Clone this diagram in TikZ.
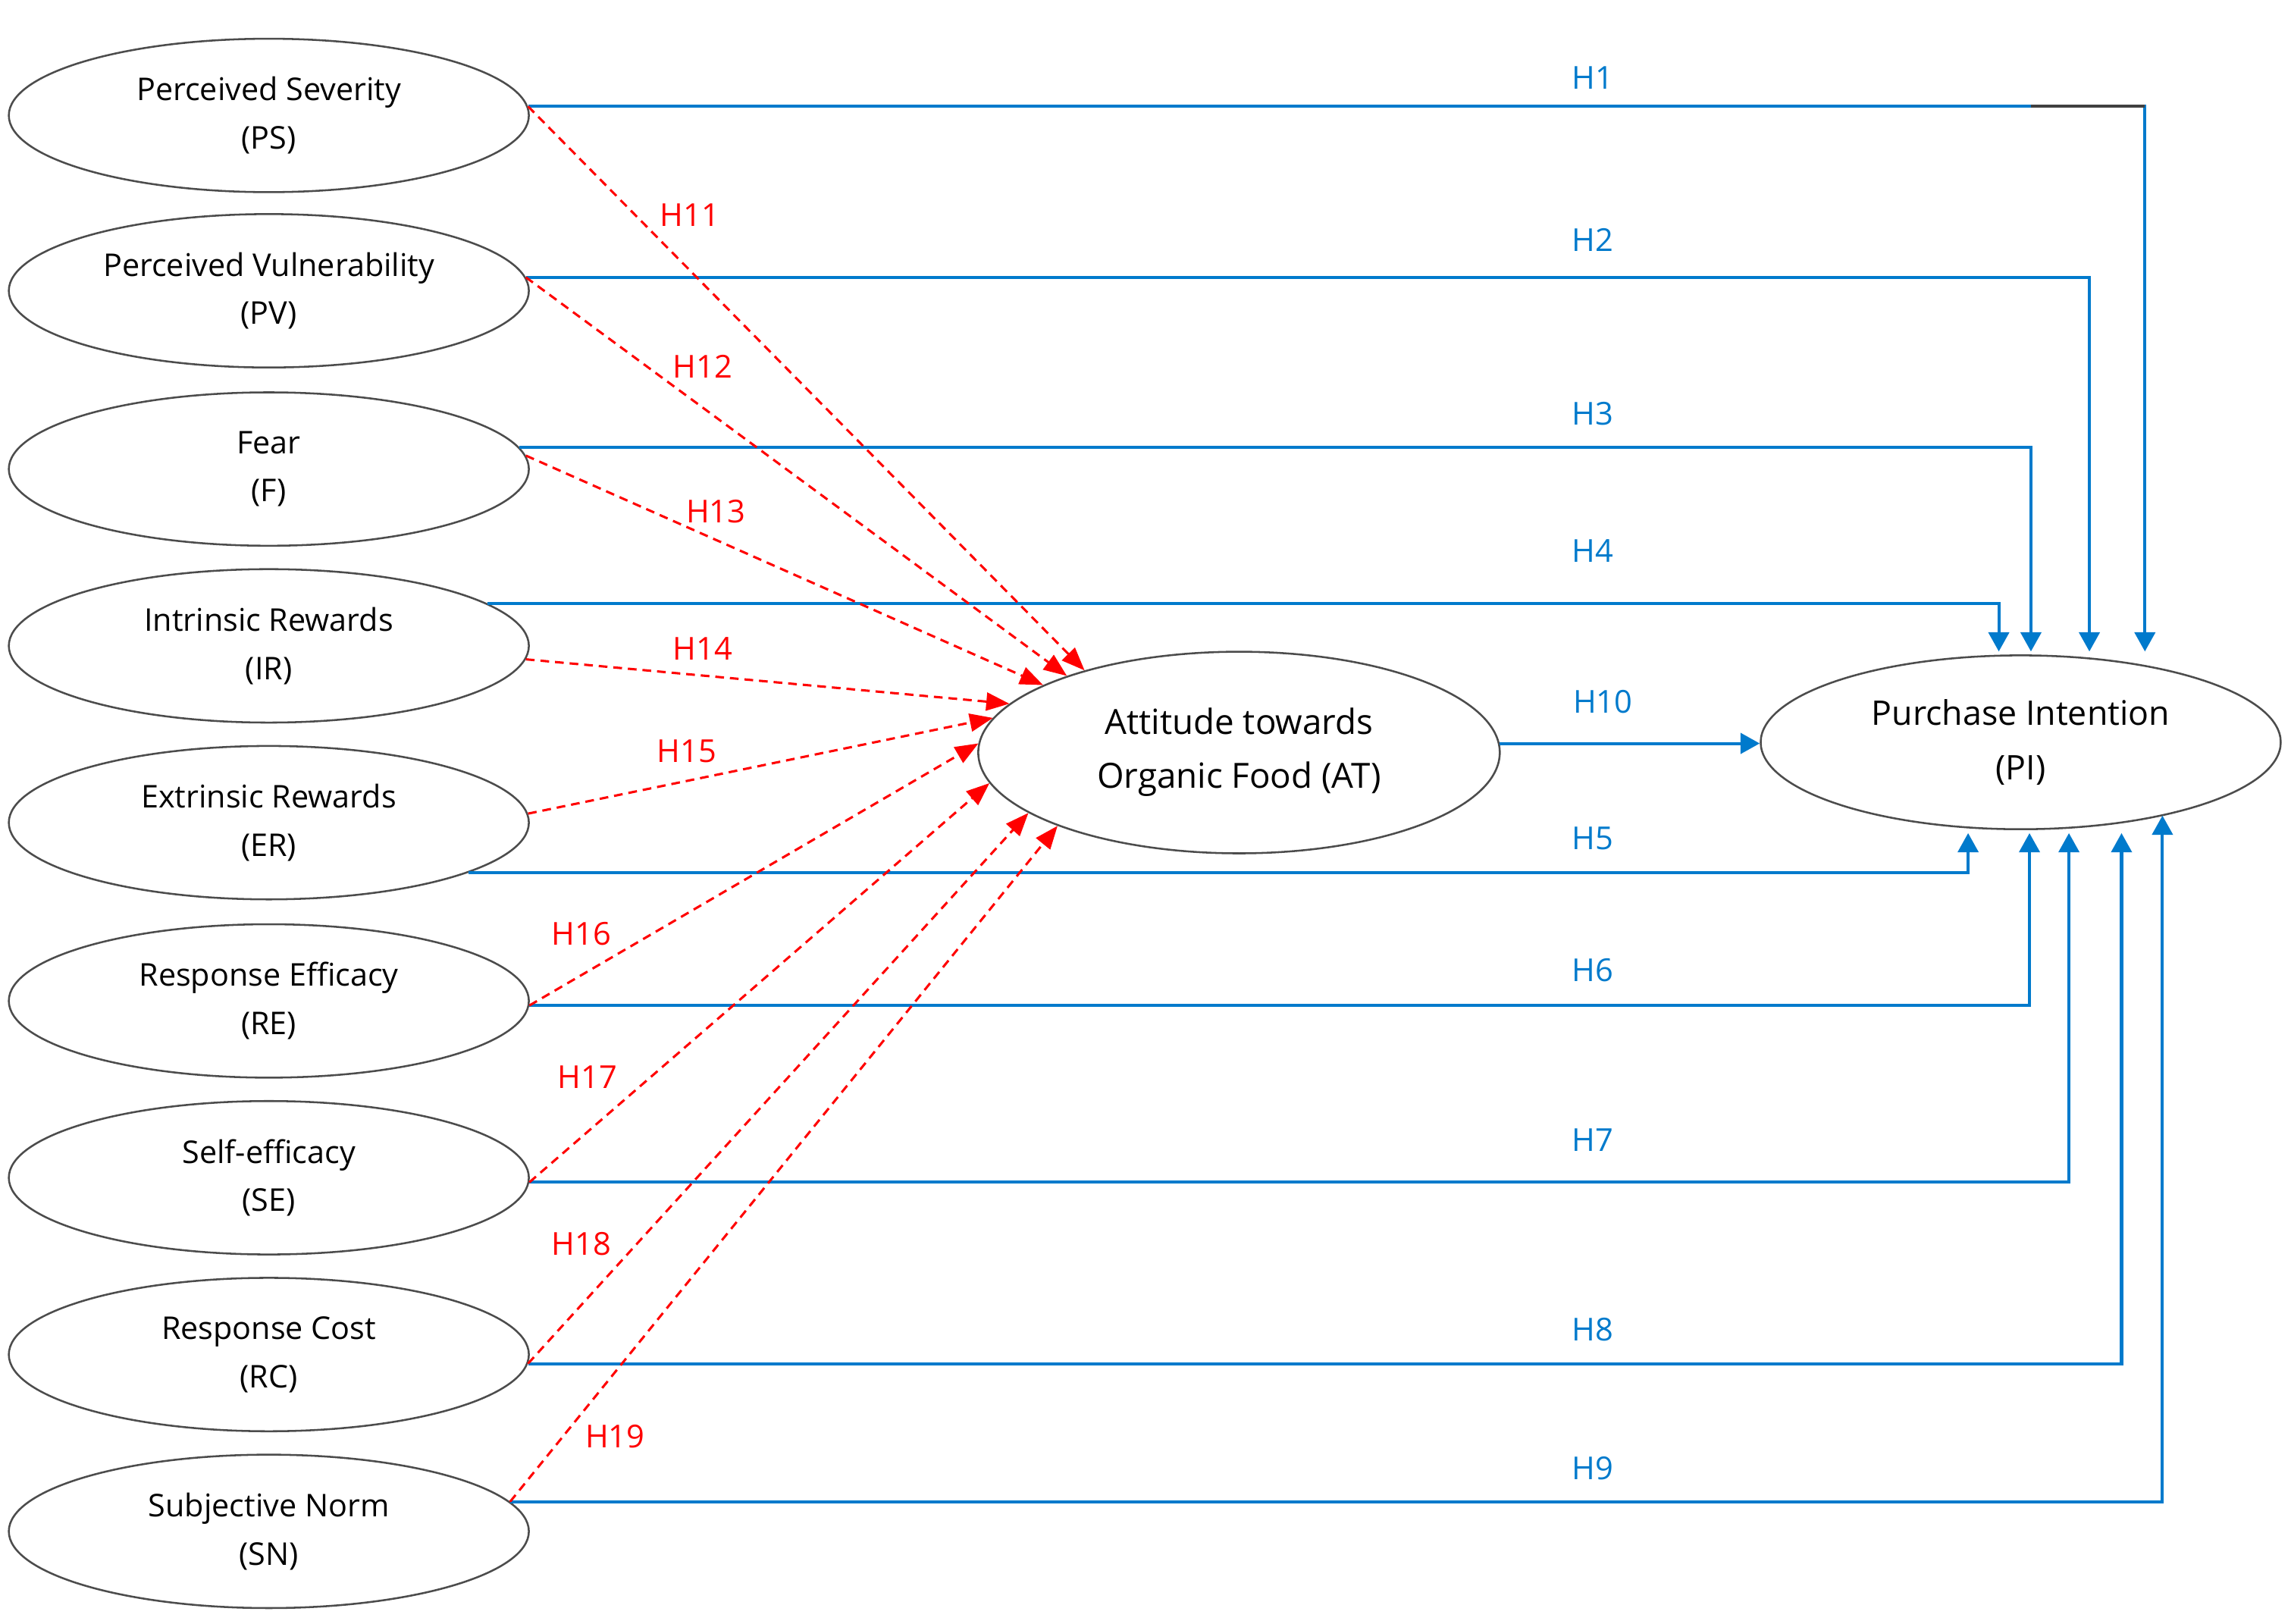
\documentclass[tikz,border=0pt]{standalone}
\usepackage{fontspec}
\setmainfont{Open Sans}
\usetikzlibrary{shapes.geometric,arrows.meta,calc}

\definecolor{pathblue}{RGB}{0,122,204}
\definecolor{pathred}{RGB}{255,0,0}

\tikzset{
  construct/.style={ellipse, draw=black!70, line width=0.75pt, align=center,
    inner sep=0pt, minimum width=7.12cm, minimum height=2.1cm,
    font=\fontsize{12.2}{18.8}\selectfont},
  hyp/.style={draw=pathblue, line width=1.2pt,
    -{Triangle[length=7.5pt,width=8pt]}},
  indhyp/.style={draw=pathred, line width=0.9pt, dash pattern=on 3.4pt off 2.3pt,
    -{Triangle[length=9pt,width=7pt]}},
  blab/.style={text=pathblue, font=\fontsize{12.3}{14}\selectfont},
  rlab/.style={text=pathred, font=\fontsize{12.3}{14}\selectfont}
}

\begin{document}
\begin{tikzpicture}[x=0.02cm, y=-0.02cm]
\useasboundingbox (0,0) rectangle (1568,1111);

% antecedents
\node[construct] (PS) at (184,79) {Perceived Severity\\(PS)};
\node[construct] (PV) at (184,199) {Perceived Vulnerability\\(PV)};
\node[construct] (F) at (184,321) {Fear\\(F)};
\node[construct] (IR) at (184,442) {Intrinsic Rewards\\(IR)};
\node[construct] (ER) at (184,563) {Extrinsic Rewards\\(ER)};
\node[construct] (RE) at (184,685) {Response Efficacy\\(RE)};
\node[construct] (SE) at (184,806) {Self-efficacy\\(SE)};
\node[construct] (RC) at (184,927) {Response Cost\\(RC)};
\node[construct] (SN) at (184,1048) {Subjective Norm\\(SN)};

% mediator and outcome
\node[construct, minimum width=7.14cm, minimum height=2.76cm,
  font=\fontsize{13.5}{21}\selectfont] (AT) at (848,515) {Attitude towards\\Organic Food (AT)};
\node[construct, minimum height=2.38cm,
  font=\fontsize{13.2}{21}\selectfont] (PI) at (1383,508) {Purchase Intention\\(PI)};

% direct paths
\draw[hyp] (PS.2) -| ($(PI.north)+(85,-2)$);
\draw[black!75, line width=1.2pt] ($(PS.2 -| PI.north)+(7,0)$) -- ($(PS.2 -| PI.north)+(85,0)$);
\draw[hyp] (PV.3) -| ($(PI.north)+(47,-2)$);
\draw[hyp] (F.5) -| ($(PI.north)+(7,-2)$);
\draw[hyp] (IR.11) -| ($(PI.north)+(-15,-2)$);
\draw[hyp] (ER.-14) -| ($(PI.south)+(-36,2)$);
\draw[hyp] (RE.-1) -| ($(PI.south)+(6,2)$);
\draw[hyp] (SE.-1) -| ($(PI.south)+(33,2)$);
\draw[hyp] (RC.-2) -| ($(PI.south)+(69,2)$);
\draw[hyp] (SN.7) -| ($(PI.south)+(97,-10)$);
\draw[hyp] (AT.2) -- (AT.2 -| PI.west);

% paths to attitude
\draw[indhyp] (PS.2) -- (AT.152);
\draw[indhyp] (PV.3) -- (AT.156);
\draw[indhyp] (F.3) -- (AT.161);
\draw[indhyp] (IR.-3) -- (AT.168);
\draw[indhyp] (ER.2) -- (AT.172);
\draw[indhyp] (RE.-1) -- (AT.178);
\draw[indhyp] (SE.-1) -- (AT.187);
\draw[indhyp] (RC.-2) -- (AT.196);
\draw[indhyp] (SN.7) -- (AT.202);

% hypothesis labels
\node[blab] (h1) at (1090,53) {H1};
\node[blab] (h2) at (1090,164) {H2};
\node[blab] (h3) at (1090,283) {H3};
\node[blab] (h4) at (1090,377) {H4};
\node[blab] (h10) at (1097,480) {H10};
\node[blab] (h5) at (1090,574) {H5};
\node[blab] (h6) at (1090,664) {H6};
\node[blab] (h7) at (1090,780) {H7};
\node[blab] (h8) at (1090,910) {H8};
\node[blab] (h9) at (1090,1005) {H9};

\node[rlab] (h11) at (472,147) {H11};
\node[rlab] (h12) at (481,251) {H12};
\node[rlab] (h13) at (490,350) {H13};
\node[rlab] (h14) at (481,444) {H14};
\node[rlab] (h15) at (470,514) {H15};
\node[rlab] (h16) at (398,639) {H16};
\node[rlab] (h17) at (402,737) {H17};
\node[rlab] (h18) at (398,851) {H18};
\node[rlab] (h19) at (421,983) {H19};
\end{tikzpicture}
\end{document}
